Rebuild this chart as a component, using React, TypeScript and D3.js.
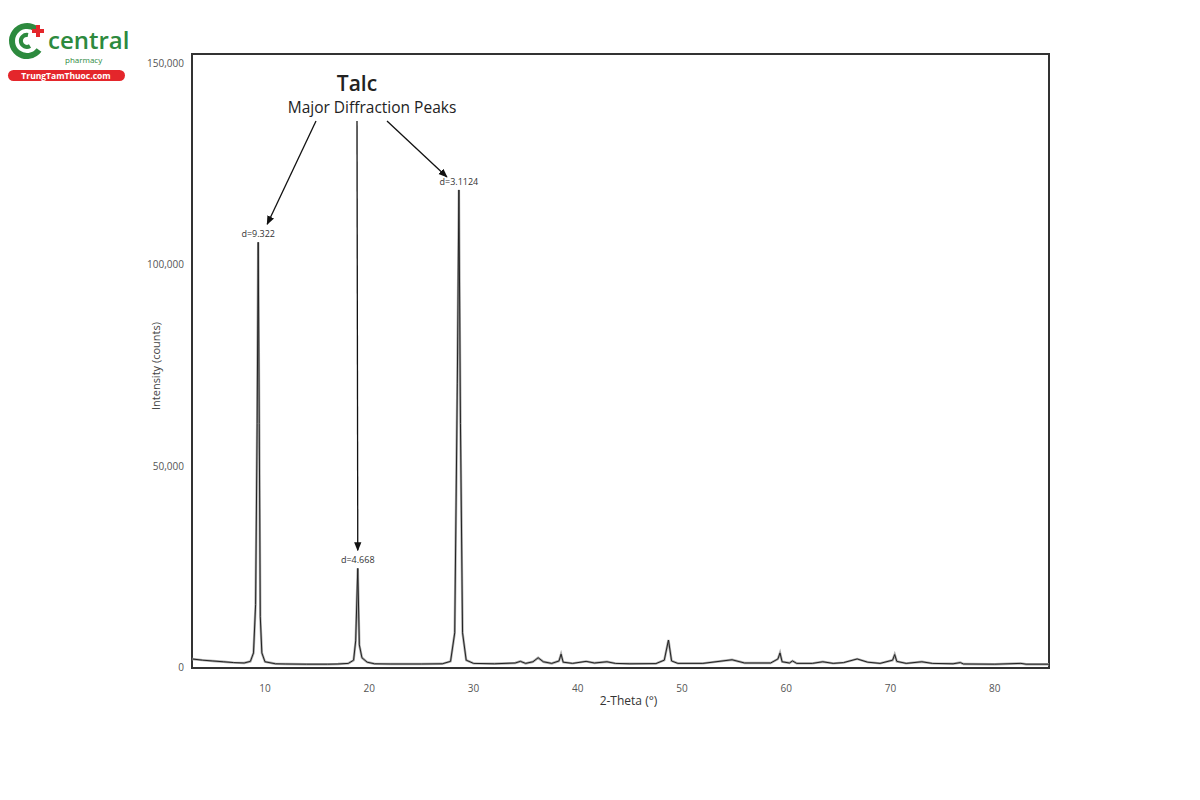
import React from 'react';
import * as d3 from 'd3';

// XRD pattern (2-theta in degrees, intensity in counts)
const twoTheta = [
  3, 4, 5, 6, 7, 8, 8.6, 8.9, 9.1, 9.25, 9.35, 9.45, 9.55, 9.7, 10, 11, 12, 14, 16, 17,
  18, 18.5, 18.7, 18.9, 19.05, 19.3, 19.8, 20.5, 22, 25, 27, 27.8, 28.2, 28.45, 28.6, 28.75,
  28.95, 29.3, 30, 32, 34, 34.5, 35, 35.7, 36.2, 36.7, 37.5, 38.2, 38.4, 38.6, 39.5, 40.8,
  41.6, 42.8, 43.6, 45, 47.5, 48.3, 48.7, 49, 49.6, 52, 54.8, 56, 58.5, 59.2, 59.4, 59.6,
  60.3, 60.6, 61, 62.5, 63.5, 64.5, 65.5, 66.8, 67.8, 69, 70.2, 70.4, 70.6, 71.5, 73, 74,
  76, 76.7, 77, 80, 82.5, 83, 85.2,
];
const counts = [
  1500, 1200, 1000, 800, 600, 500, 900, 3000, 15000, 60000, 105000, 60000, 12000, 3000, 800, 300, 250, 200, 200, 250,
  400, 1200, 6000, 24000, 5000, 1800, 700, 300, 250, 250, 300, 900, 8000, 70000, 118000, 60000,
  8000, 1200, 400, 300, 500, 900, 400, 800, 1800, 800, 400, 1000, 2700, 700, 400, 900,
  500, 800, 400, 300, 350, 1200, 6200, 1000, 400, 400, 1300, 500, 500, 1500, 3000, 800,
  500, 1000, 400, 400, 800, 400, 600, 1500, 700, 400, 1200, 2600, 900, 400, 800, 400,
  300, 600, 250, 200, 400, 200, 200,
];

const peakTheta = [9.35, 18.9, 28.6];
const peakCounts = [105000, 24000, 118000];
const peakLabels = ['d=9.322', 'd=4.668', 'd=3.1124'];

const xTicks = [10, 20, 30, 40, 50, 60, 70, 80];
const yTicks = [0, 50000, 100000, 150000];
const yTickLabels = ['0', '50,000', '100,000', '150,000'];

const font = '"Open Sans", "Noto Sans", sans-serif';

const App = () => {
  const left = 192, right = 1049, top = 54, bottom = 668;

  const x = d3.scaleLinear().domain([3, 85.2]).range([left, right]);
  const y = d3.scaleLinear().domain([0, 152500]).range([bottom, top]);

  const pts: [number, number][] = twoTheta.map((t, i) => [t, counts[i]]);
  const line = d3.line<[number, number]>()
    .x((d) => x(d[0]))
    .y((d) => y(d[1]) - 3);

  // arrow starts below the "Major Diffraction Peaks" subtitle
  const arrowStarts: [number, number][] = [[316, 121], [357, 121], [387, 121]];
  const arrowEndOffset = [21, 21, 16];

  return (
    <svg width={1200} height={800} style={{ position: 'absolute', left: 0, top: 0, background: '#fff' }}>
      <defs>
        <marker id="ah" viewBox="0 0 10 10" refX="9" refY="5" markerWidth="7" markerHeight="7" orient="auto">
          <path d="M0,1 L10,5 L0,9 Z" fill="#111" />
        </marker>
      </defs>

      {/* logo */}
      <g>
        <path d="M 36 29 A 15 15 0 1 0 39 50" fill="none" stroke="#2d8a3e" strokeWidth={6} />
        <path d="M 28 35 A 6 6 0 1 0 30 46" fill="none" stroke="#2d8a3e" strokeWidth={4} />
        <rect x={36} y={25} width={4} height={12} fill="#e4262b" />
        <rect x={32} y={29} width={12} height={4} fill="#e4262b" />
        <text x={48} y={49} fontFamily={font} fontSize={24} fill="#2d8a3e" fontWeight={600}>central</text>
        <text x={65} y={63} fontFamily={font} fontSize={8} fill="#2d8a3e">pharmacy</text>
        <rect x={8} y={70} width={117} height={11} rx={5.5} fill="#e4262b" />
        <text x={66} y={78.8} textAnchor="middle" fontFamily={font} fontSize={8.5} fontWeight={700} fill="#fff">TrungTamThuoc.com</text>
      </g>

      {/* plot frame */}
      <rect x={left} y={top} width={right - left} height={bottom - top} fill="none" stroke="#333" strokeWidth={2} />

      {/* trace */}
      <path d={line(pts) ?? ''} fill="none" stroke="#aaa" strokeWidth={2.4} />
      <path d={line(pts) ?? ''} fill="none" stroke="#222" strokeWidth={1} />

      {/* axes labels */}
      {xTicks.map((t) => (
        <text key={t} x={x(t)} y={bottom + 24} textAnchor="middle" fontFamily={font} fontSize={10} fill="#555">{t}</text>
      ))}
      {yTicks.map((t, i) => (
        <text key={t} x={left - 8} y={y(t) + 3} textAnchor="end" fontFamily={font} fontSize={10} fill="#555">{yTickLabels[i]}</text>
      ))}
      <text x={(left + right) / 2 + 8} y={705} textAnchor="middle" fontFamily={font} fontSize={12} fill="#333">2-Theta (°)</text>
      <text transform={`translate(160, ${y(75000)}) rotate(-90)`} textAnchor="middle" fontFamily={font} fontSize={11} fill="#444">Intensity (counts)</text>

      {/* annotation */}
      <text x={357} y={91} textAnchor="middle" fontFamily={font} fontSize={21} fontWeight={600} fill="#222">Talc</text>
      <text x={372} y={113} textAnchor="middle" fontFamily={font} fontSize={15.5} fill="#222">Major Diffraction Peaks</text>
      {peakTheta.map((t, i) => (
        <g key={t}>
          <text x={x(t)} y={y(peakCounts[i]) - 8} textAnchor="middle" fontFamily={font} fontSize={9} fill="#333">{peakLabels[i]}</text>
          <line
            x1={arrowStarts[i][0]} y1={arrowStarts[i][1]}
            x2={x(t) + (i === 0 ? 9 : i === 2 ? -12 : 0)} y2={y(peakCounts[i]) - arrowEndOffset[i]}
            stroke="#111" strokeWidth={1.3} markerEnd="url(#ah)"
          />
        </g>
      ))}
    </svg>
  );
};

export default App;
